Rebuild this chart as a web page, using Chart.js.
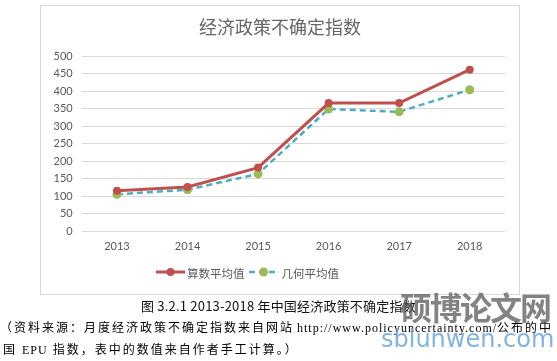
<!DOCTYPE html>
<html><head><meta charset="utf-8">
<script src="https://cdn.jsdelivr.net/npm/chart.js@4"></script>
<style>
html,body{margin:0;padding:0;background:#fff;width:557px;height:361px;overflow:hidden;position:relative;}
#box{position:absolute;left:40px;top:5px;width:480px;height:290px;border:1px solid #d9d9d9;box-sizing:border-box;}
#cv{position:absolute;left:40px;top:5px;}
.t{position:absolute;white-space:nowrap;}
#title{left:40px;width:480px;top:13px;text-align:center;font:18px "Noto Sans CJK SC";color:#666;}
#legend{left:156px;top:263px;font:11.5px "Noto Sans CJK SC";color:#595959;}
#legend span{display:inline-block;vertical-align:middle;}
.cap{font-family:"Liberation Serif","Noto Sans CJK SC";font-size:12px;color:#000;}
.cj{letter-spacing:2px;}
.url{letter-spacing:1px;}
</style></head><body>
<div id="box"></div>
<canvas id="cv" width="480" height="290"></canvas>
<div class="t" id="title">经济政策不确定指数</div>
<div class="t" id="legend"></div>
<div class="t" style="left:141px;top:296px;font:13px 'Noto Sans CJK SC';color:#111;letter-spacing:0.2px;">图 3.2.1 2013-2018 年中国经济政策不确定指数</div>
<div class="t cap" style="left:0px;top:318px;"><span class="cj">（资料来源：月度经济政策不确定指数来自网站</span> <span class="url">http://www.policyuncertainty.com/</span><span class="cj">公布的中</span></div>
<div class="t cap" style="left:3px;top:340px;"><span class="cj">国 </span><span class="url">EPU</span><span class="cj"> 指数，表中的数值来自作者手工计算。）</span></div>
<div class="t" style="left:400px;top:283px;font:bold 32px 'Noto Sans CJK SC';color:rgba(90,90,90,0.75);letter-spacing:-2px;">硕博论文网</div>
<div class="t" style="left:381px;top:325px;font:24px 'DejaVu Sans';color:rgba(100,160,220,0.8);">sblunwen.com</div>
<script>
const years = ['2013','2014','2015','2016','2017','2018'];
const arithMean = [116,127,182,366,366,461];
const geoMean = [106,119,164,349,341,404];
const yTicks = [0,50,100,150,200,250,300,350,400,450,500];
const seriesNames = ['算数平均值','几何平均值'];

const lg = document.getElementById('legend');
lg.innerHTML =
 '<span><svg width="29" height="12"><line x1="0" y1="6" x2="29" y2="6" stroke="#c0504d" stroke-width="3"/><circle cx="14.5" cy="6" r="4" fill="#c0504d"/></svg></span>'+
 '<span style="margin:0 4px 0 2px">'+seriesNames[0]+'</span>'+
 '<span><svg width="29" height="12"><line x1="0" y1="6" x2="29" y2="6" stroke="#4bacc6" stroke-width="2.5" stroke-dasharray="6,4"/><circle cx="14.5" cy="6" r="4.5" fill="#9bbb59"/></svg></span>'+
 '<span style="margin-left:4px">'+seriesNames[1]+'</span>';

new Chart(document.getElementById('cv'), {
  type:'line',
  data:{labels:years,datasets:[
    {label:seriesNames[0],data:arithMean,borderColor:'#c0504d',backgroundColor:'#c0504d',borderWidth:3,pointRadius:4,pointBackgroundColor:'#c0504d',pointBorderWidth:0,tension:0},
    {label:seriesNames[1],data:geoMean,borderColor:'#4bacc6',backgroundColor:'#9bbb59',borderWidth:2.5,borderDash:[6,4],pointRadius:4.5,pointBackgroundColor:'#9bbb59',pointBorderWidth:0,tension:0}
  ]},
  options:{
    responsive:false,animation:false,
    layout:{padding:{top:51,right:15,bottom:33.5,left:0}},
    plugins:{legend:{display:false},title:{display:false},tooltip:{enabled:false}},
    scales:{
      x:{offset:true,grid:{display:false,drawTicks:false},border:{display:false},
         ticks:{color:'#595959',font:{family:'Lato',size:11},padding:8},
         afterFit(s){s.height=30;}},
      y:{min:0,max:500,afterBuildTicks(s){s.ticks=yTicks.map(v=>({value:v}));},
         grid:{color:'#d9d9d9',drawTicks:false},border:{display:false},
         ticks:{color:'#595959',font:{family:'Lato',size:11},padding:9},
         afterFit(s){s.width=41.7;}}
    }
  }
});
</script>
</body></html>
